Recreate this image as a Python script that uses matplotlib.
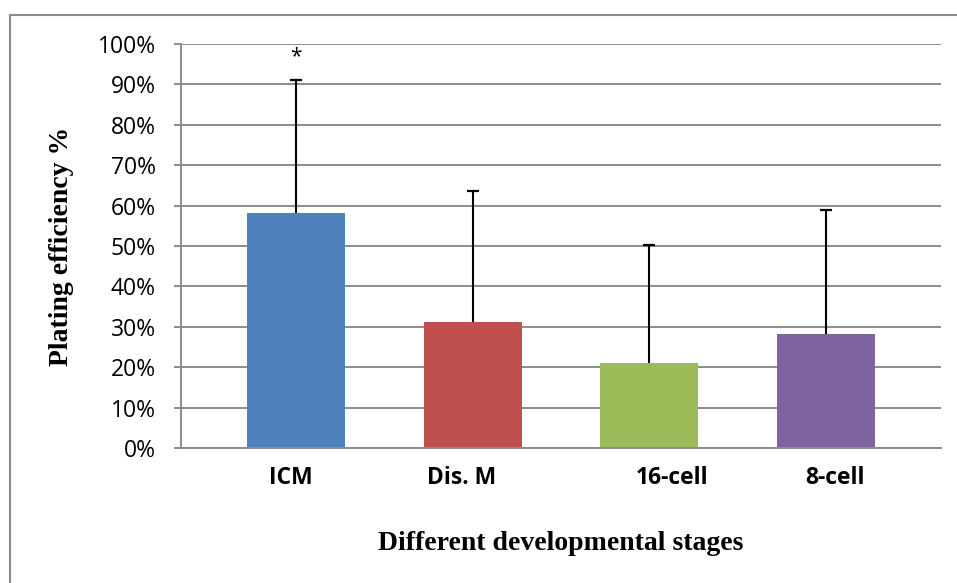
import matplotlib.pyplot as plt
from matplotlib.lines import Line2D
from matplotlib.transforms import ScaledTranslation
from matplotlib.ticker import PercentFormatter

# values (fractions)
stages = ['ICM', 'Dis. M', '16-cell', '8-cell']
efficiency = [0.582, 0.312, 0.210, 0.282]
err_up = [0.328, 0.323, 0.292, 0.307]
colors = ['#4F81BD', '#C0504D', '#9BBB59', '#8064A2']
y_ticks = [i / 10 for i in range(11)]

grey = '#8c8c8c'
tick_font = 'Open Sans'
serif = 'Liberation Serif'

fig = plt.figure(figsize=(9.57, 5.83), dpi=100)
ax = fig.add_axes([0.1891, 0.2316, 0.7942, 0.6929])

x = list(range(len(stages)))
ax.bar(x, efficiency, width=0.554, color=colors, zorder=2)

# upper error bars only
tops = [v + e for v, e in zip(efficiency, err_up)]
ax.vlines(x, efficiency, tops, color='black', linewidth=1.5, zorder=3)
ax.plot(x, tops, linestyle='none', marker='_', markersize=9,
        markeredgewidth=1.6, color='black', zorder=3)

ax.text(0, 0.955, '*', ha='center', va='baseline', fontsize=15,
        family=tick_font)

ax.set_xlim(-0.65, 3.65)
ax.set_ylim(0, 1)
ax.set_yticks(y_ticks)
ax.yaxis.set_major_formatter(PercentFormatter(1.0, decimals=0))
ax.grid(axis='y', color=grey, linewidth=1.4, zorder=0)
ax.set_axisbelow(True)

for side in ['top', 'right']:
    ax.spines[side].set_visible(False)
for side in ['left', 'bottom']:
    ax.spines[side].set_color(grey)
    ax.spines[side].set_linewidth(1.4)

ax.tick_params(axis='y', direction='out', length=5, width=1.4, color=grey,
               pad=13, labelsize=16.5)
for lab in ax.get_yticklabels():
    lab.set_family(tick_font)

ax.set_xticks(x)
ax.set_xticklabels(stages, fontsize=16.5, fontweight='bold', family=tick_font)
ax.tick_params(axis='x', length=0, pad=13)
# labels in the original sit a little off the bar centres
shifts = [-5, -11, 23, 9]
for lab, dx in zip(ax.get_xticklabels(), shifts):
    lab.set_transform(lab.get_transform() +
                      ScaledTranslation(dx / 100, 0, fig.dpi_scale_trans))

ax.set_ylabel('Plating efficiency %', fontsize=20, fontweight='bold',
              family=serif, va='center')
ax.yaxis.set_label_coords(-0.157, 0.5)
fig.text(0.586, 1 - 543 / 583, 'Different developmental stages',
         ha='center', va='center', fontsize=20, fontweight='bold',
         family=serif)

# outer chart frame (only top and left edges are inside the picture)
fig.add_artist(Line2D([10 / 957, 1], [1 - 15 / 583] * 2, color=grey,
                      linewidth=1.5, transform=fig.transFigure))
fig.add_artist(Line2D([10 / 957] * 2, [0, 1 - 15 / 583], color=grey,
                      linewidth=1.5, transform=fig.transFigure))

fig.savefig('out.png', dpi=100)
